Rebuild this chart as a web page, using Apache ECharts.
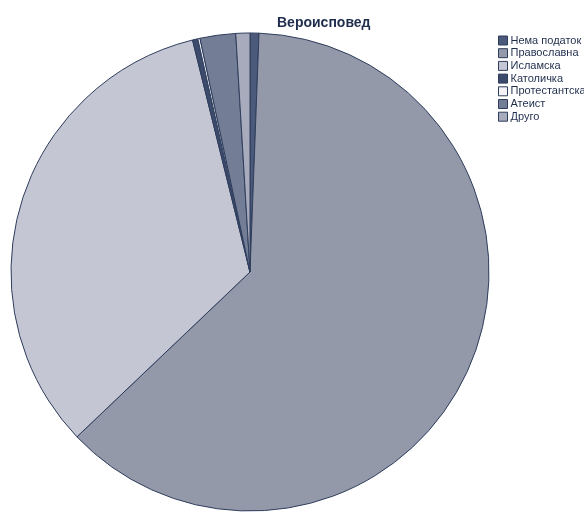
<!DOCTYPE html>
<html>
<head>
<meta charset="utf-8">
<script src="https://cdn.jsdelivr.net/npm/echarts@6/dist/echarts.min.js"></script>
<style>html,body{margin:0;padding:0;background:#fff}#c{width:584px;height:512px}</style>
</head>
<body>
<div id="c"></div>
<script>
const categories = ['Нема податок','Православна','Исламска','Католичка','Протестантска','Атеист','Друго'];
const values = [0.6, 62.2, 33.2, 0.36, 0.15, 2.4, 0.95];
const colors = ['#4b5a7a','#9399a9','#c5c6d3','#3c4b6b','#f2f2f7','#747d96','#a7abbc'];

const chart = echarts.init(document.getElementById('c'), null, {renderer:'canvas'});
chart.setOption({
  animation: false,
  title: {
    text: 'Вероисповед',
    left: 272, top: 11,
    textStyle: {fontFamily: 'Liberation Sans', fontSize: 14, fontWeight: 'bold', color: '#1f2d4d'}
  },
  legend: {
    orient: 'vertical',
    left: 493, top: 30,
    itemWidth: 9, itemHeight: 9, itemGap: 1.7,
    icon: 'rect',
    data: categories,
    textStyle: {fontFamily: 'Liberation Sans', fontSize: 11, lineHeight: 10, color: '#1f2d4d', padding: [0,0,0,-2]},
    itemStyle: {borderColor: '#2e3d5c', borderWidth: 1}
  },
  series: [{
    type: 'pie',
    center: [250, 272],
    radius: 239,
    startAngle: 90,
    clockwise: true,
    label: {show: false},
    labelLine: {show: false},
    emphasis: {disabled: true},
    itemStyle: {borderColor: '#2e3d5c', borderWidth: 1},
    data: categories.map((n,i)=>({name:n, value:values[i], itemStyle:{color:colors[i]}}))
  }]
});
</script>
</body>
</html>
